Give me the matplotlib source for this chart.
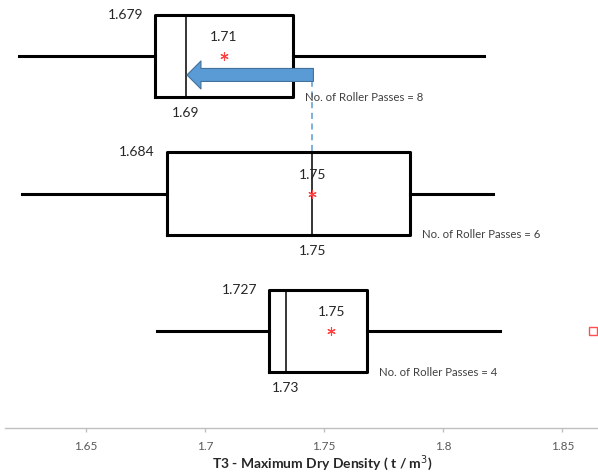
import matplotlib
matplotlib.use("Agg")
import matplotlib.pyplot as plt
from matplotlib.patches import FancyArrowPatch

# ---- data ----
passes = ["No. of Roller Passes = 8", "No. of Roller Passes = 6", "No. of Roller Passes = 4"]
positions = [3, 2, 1]
whislo = [1.622, 1.623, 1.680]
q1 = [1.679, 1.684, 1.727]
med = [1.692, 1.745, 1.734]
mean = [1.708, 1.745, 1.753]
q3 = [1.737, 1.786, 1.768]
whishi = [1.817, 1.821, 1.824]
fliers = [[], [], [1.863]]
q1_labels = ["1.679", "1.684", "1.727"]
med_labels = ["1.69", "1.75", "1.73"]
mean_labels = ["1.71", "1.75", "1.75"]
xticks = [1.65, 1.70, 1.75, 1.80, 1.85]
xtick_labels = ["1.65", "1.7", "1.75", "1.8", "1.85"]
arrow_from = 1.7455
arrow_to = 1.6924
ref_line_x = 1.745

plt.rcParams['font.family'] = ['Lato', 'DejaVu Sans']

W, H = 598, 472
fig = plt.figure(figsize=(W / 100, H / 100), dpi=100)
ax = fig.add_axes([5 / W, (H - 428) / H, (W - 5) / W, 428 / H])

stats = []
for i in range(3):
    stats.append(dict(whislo=whislo[i], q1=q1[i], med=med[i], mean=mean[i],
                      q3=q3[i], whishi=whishi[i], fliers=fliers[i]))

ax.bxp(stats, positions=positions, vert=False, widths=0.6, showmeans=True,
       showcaps=False, showfliers=True, manage_ticks=False,
       boxprops=dict(color='black', linewidth=2.2),
       whiskerprops=dict(color='black', linewidth=2.2),
       medianprops=dict(color='black', linewidth=1.1),
       meanprops=dict(marker=(6, 2, 0), markeredgecolor='#ff4040',
                      markerfacecolor='#ff4040', markersize=6, markeredgewidth=0.8),
       flierprops=dict(marker='s', markerfacecolor='none', markeredgecolor='#ff5050',
                       markersize=6, markeredgewidth=1.0))

ax.set_xlim(1.616, 1.865)
ax.set_ylim(0.295, 3.407)

# dashed reference line
ax.plot([ref_line_x, ref_line_x], [2.9, 2.3], color='#5b9bd5', lw=1.1,
        linestyle=(0, (4, 3)), zorder=1)

# arrow
y_arrow = 2.862
arr = FancyArrowPatch((arrow_from, y_arrow), (arrow_to, y_arrow),
                      arrowstyle='simple,head_length=1.4,head_width=2.8,tail_width=1.3',
                      mutation_scale=7.2, shrinkA=0, shrinkB=0,
                      facecolor='#5b9bd5', edgecolor='#41719c', lw=0.8, zorder=5)
ax.add_patch(arr)

for i, p in enumerate(positions):
    ax.annotate(q1_labels[i], (q1[i], p + 0.3), xytext=(-12, 0),
                textcoords='offset pixels', ha='right', va='center',
                fontsize=10, color='#262626')
    ax.annotate(med_labels[i], (med[i], p - 0.3), xytext=(0, -16),
                textcoords='offset pixels', ha='center', va='center',
                fontsize=10, color='#262626')
    ax.annotate(mean_labels[i], (mean[i], p), xytext=(0, 19),
                textcoords='offset pixels', ha='center', va='center',
                fontsize=10, color='#262626')
    ax.annotate(passes[i], (q3[i], p - 0.3), xytext=(12, 0),
                textcoords='offset pixels', ha='left', va='center',
                fontsize=8.2, color='#404040')

for s in ['top', 'right', 'left']:
    ax.spines[s].set_visible(False)
ax.spines['bottom'].set_color('#bfbfbf')
ax.spines['bottom'].set_linewidth(1.0)
ax.set_yticks([])
ax.set_xticks(xticks)
ax.set_xticklabels(xtick_labels)
ax.tick_params(axis='x', colors='#bfbfbf', length=3, width=1, pad=6,
               labelsize=8.5, labelcolor='#595959')

fig.text(322 / W, 1 - 463 / H, "T3 - Maximum Dry Density ( t / m$^3$)",
         ha='center', va='center', fontsize=10, fontweight='bold', color='#262626')

fig.savefig("out.png", dpi=100)
